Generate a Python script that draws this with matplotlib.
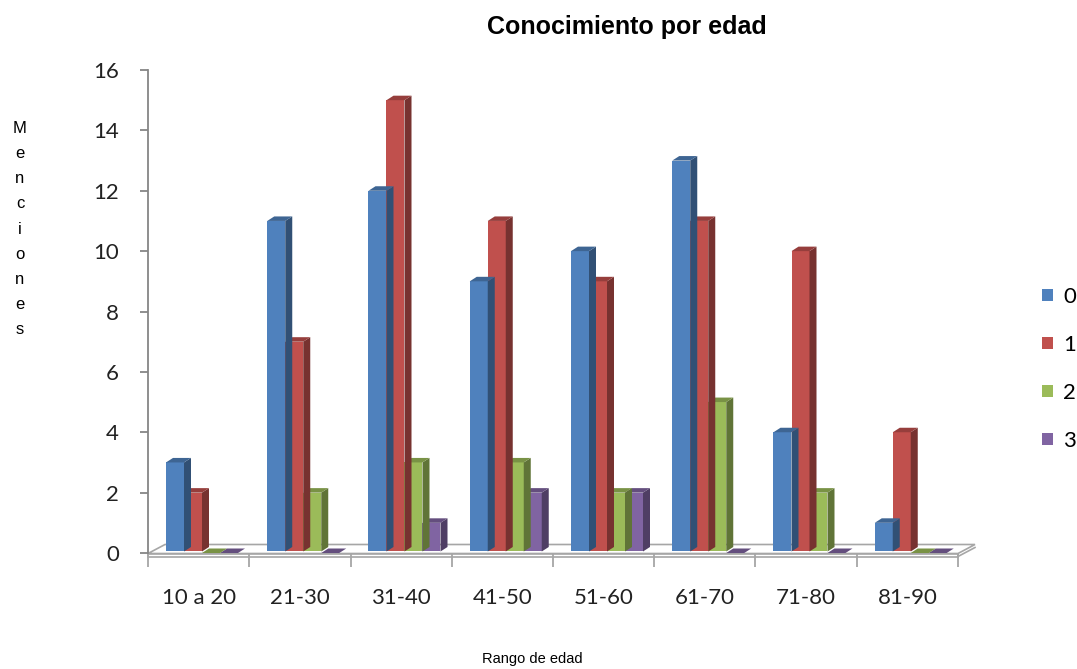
import numpy as np
import matplotlib.pyplot as plt
from matplotlib.patches import Polygon, Patch
from matplotlib.colors import to_rgb

# --- datos ---
categorias = ['10 a 20', '21-30', '31-40', '41-50', '51-60', '61-70', '71-80', '81-90']
serie_0 = [3, 11, 12, 9, 10, 13, 4, 1]
serie_1 = [2, 7, 15, 11, 9, 11, 10, 4]
serie_2 = [0, 2, 3, 3, 2, 5, 2, 0]
serie_3 = [0, 0, 1, 2, 2, 0, 0, 0]
nombres = ['0', '1', '2', '3']
colores = ['#4F81BD', '#C0504D', '#9BBB59', '#8064A2']

W, H = 1077, 669
fig = plt.figure(figsize=(W / 100, H / 100), dpi=100)
# eje en pixeles: x 148..958, y 70..553
ax = fig.add_axes([148 / W, (H - 553) / H, 810 / W, 483 / H])
ax.set_xlim(0, len(categorias))
ax.set_ylim(0, 16)

# conversion pixel -> unidades de datos
px_x = len(categorias) / 810.0
px_y = 16 / 483.0

def oscuro(c, f):
    r, g, b = to_rgb(c)
    return (r * f, g * f, b * f)

# suelo con perspectiva
fx0, fx1 = 0, len(categorias)
dx_f, dy_f = 17 * px_x, 9 * px_y
y_front = -0.5 * px_y
suelo = Polygon([(fx0, y_front), (fx1, y_front), (fx1 + dx_f, y_front + dy_f),
                 (fx0 + dx_f, y_front + dy_f)], closed=True, facecolor='white',
                edgecolor='#A6A6A6', lw=1.2, clip_on=False, zorder=1)
ax.add_patch(suelo)
frente = Polygon([(fx0, y_front), (fx1, y_front), (fx1, y_front - 3 * px_y),
                  (fx0, y_front - 3 * px_y)], closed=True, facecolor='white',
                 edgecolor='#A6A6A6', lw=1.2, clip_on=False, zorder=1)
ax.add_patch(frente)
ax.plot([fx1, fx1 + dx_f], [y_front - 3 * px_y, y_front - 3 * px_y + dy_f],
        color='#A6A6A6', lw=1.2, clip_on=False, zorder=1)

# barras 3D
ancho = 18 * px_x
inicio = 18 * px_x
dx, dy = 7 * px_x, 4.5 * px_y
base = 0.05
series = [serie_0, serie_1, serie_2, serie_3]
for j, (vals, col) in enumerate(zip(series, colores)):
    for i, v in enumerate(vals):
        x0 = i + inicio + j * ancho
        x1 = x0 + ancho
        z = 10 - j
        if v > 0:
            ax.bar(x0, v - base, width=ancho, bottom=base, align='edge', color=col,
                   edgecolor='none', zorder=z)
            lado = Polygon([(x1, base), (x1 + dx, base + dy), (x1 + dx, v + dy), (x1, v)],
                           closed=True, facecolor=oscuro(col, 0.62), edgecolor='none', zorder=z)
            ax.add_patch(lado)
        tapa = Polygon([(x0, v), (x1, v), (x1 + dx, v + dy), (x0 + dx, v + dy)],
                       closed=True, facecolor=oscuro(col, 0.78), edgecolor='none', zorder=z,
                       clip_on=False)
        ax.add_patch(tapa)

# ejes
for s in ['top', 'right', 'bottom']:
    ax.spines[s].set_visible(False)
ax.spines['left'].set_color('#868686')
ax.spines['left'].set_linewidth(1.3)
ax.set_yticks(range(0, 17, 2))
ax.tick_params(axis='y', direction='out', length=6, width=1.3, color='#868686',
               labelsize=16, pad=15, labelcolor='#222222')
ax.set_xticks(range(len(categorias) + 1))
ax.set_xticks(np.arange(len(categorias)) + 0.5, minor=True)
ax.set_xticklabels([''] * (len(categorias) + 1))
ax.set_xticklabels(categorias, minor=True)
ax.tick_params(axis='x', which='major', direction='out', length=10, width=1.3,
               color='#A6A6A6')
ax.tick_params(axis='x', which='minor', length=0, labelsize=16, pad=25,
               labelcolor='#222222')
for t in ax.get_xticklabels(minor=True) + ax.get_yticklabels():
    t.set_fontfamily(['Lato', 'DejaVu Sans'])

fig.text(627 / W, 1 - 27 / H, 'Conocimiento por edad', ha='center', va='center',
         fontsize=18, fontweight='bold', family='Liberation Sans')
fig.text(532 / W, 1 - 659 / H, 'Rango de edad', ha='center', va='center',
         fontsize=10.5, family='Liberation Sans')
fig.text(20 / W, 1 - 229 / H, '\n'.join('Menciones'), ha='center', va='center',
         fontsize=12, family='Liberation Sans', linespacing=1.85)

handles = [Patch(facecolor=c, edgecolor='none') for c in colores]
leg = fig.legend(handles, nombres, loc='center left', bbox_to_anchor=(1042 / W, 1 - 369 / H),
                 frameon=False, borderaxespad=0, borderpad=0,
                 handlelength=0.5, handleheight=0.5, handletextpad=0.45,
                 labelspacing=1.26, prop={'family': 'Lato', 'size': 16})

fig.savefig('out.png', dpi=100)
